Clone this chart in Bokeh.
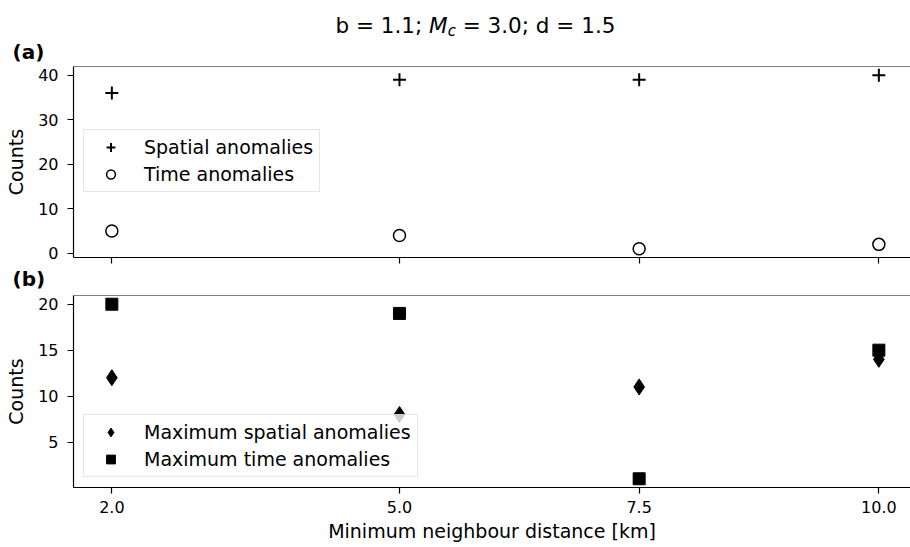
from bokeh.plotting import figure
from bokeh.layouts import column
from bokeh.models import Range1d, FixedTicker, Legend, LegendItem, Label, Span, Title
from bokeh.embed import file_html
from bokeh.resources import INLINE

# --- data -------------------------------------------------------------
distance_km = [2.0, 5.0, 7.5, 10.0]
x_tick_labels = ["2.0", "5.0", "7.5", "10.0"]

spatial_anomalies = [36, 39, 39, 40]
time_anomalies = [5, 4, 1, 2]

max_spatial_anomalies = [12, 8, 11, 14]
max_time_anomalies = [20, 19, 1, 15]

counts_ticks_a = [0, 10, 20, 30, 40]
counts_ticks_b = [5, 10, 15, 20]

# --- layout constants (pixels) ------------------------------------------
W, H = 910, 547
LEFT = 73
TITLE_H = 39
TAG_A_H = 27
FRAME_A_H = 191
A_BOTTOM = 8
GAP_H = 30
FRAME_B_H = 192
B_BOTTOM = H - TITLE_H - TAG_A_H - FRAME_A_H - A_BOTTOM - GAP_H - FRAME_B_H

FONT = "DejaVu Sans"
TICK_SIZE = "16px"
LABEL_SIZE = "19px"
TAG_SIZE = "20px"


def padded(lo, hi, frac=0.05):
    pad = (hi - lo) * frac
    return lo - pad, hi + pad


x_lo, _ = padded(min(distance_km), max(distance_km))
x_range = Range1d(x_lo, 10.33)

ya_lo, ya_hi = padded(min(spatial_anomalies + time_anomalies),
                      max(spatial_anomalies + time_anomalies))
yb_lo, yb_hi = padded(min(max_spatial_anomalies + max_time_anomalies),
                      max(max_spatial_anomalies + max_time_anomalies))


def blank_figure(height):
    p = figure(width=W, height=height, x_axis_type=None, y_axis_type=None,
               toolbar_location=None, output_backend="svg",
               min_border_left=LEFT, min_border_right=0, min_border_top=0,
               min_border_bottom=0, outline_line_color=None)
    p.xgrid.visible = False
    p.ygrid.visible = False
    return p


def panel_tag(text, standoff=0):
    # bold "(a)" / "(b)" tag, pulled left of the axes box
    return Title(text=text, align="left", offset=12 - LEFT, standoff=standoff,
                 vertical_align="middle", text_font=FONT,
                 text_font_size=TAG_SIZE, text_font_style="bold",
                 text_color="black")


def style_axes(p, show_x_labels):
    for ax in (p.xaxis[0], p.yaxis[0]):
        ax.axis_line_color = "black"
        ax.axis_line_width = 1.2
        ax.major_tick_line_color = "black"
        ax.major_tick_line_width = 1.2
        ax.major_tick_out = 6
        ax.major_tick_in = 0
        ax.minor_tick_line_color = None
        ax.major_label_text_font = FONT
        ax.major_label_text_font_size = TICK_SIZE
        ax.major_label_text_color = "black"
        ax.major_label_standoff = 9
        ax.axis_label_text_font = FONT
        ax.axis_label_text_font_size = LABEL_SIZE
        ax.axis_label_text_font_style = "normal"
        ax.axis_label_text_color = "black"
        ax.axis_label_standoff = 8
    p.xaxis.ticker = FixedTicker(ticks=distance_km)
    p.xaxis.major_label_overrides = dict(zip(distance_km, x_tick_labels))
    p.xaxis.major_label_standoff = 7
    p.xaxis.axis_label_standoff = 4
    if not show_x_labels:
        p.xaxis.major_label_text_color = None
        p.xaxis.major_label_standoff = 0
    p.xgrid.visible = False
    p.ygrid.visible = False
    p.outline_line_color = None
    # top edge of the axes box
    p.add_layout(Span(location=p.y_range.end, dimension="width",
                      line_color="black", line_width=1.2))


def make_legend(items, bottom_offset):
    return Legend(
        items=items,
        location=(10, bottom_offset),
        margin=0,
        padding=6,
        spacing=5,
        glyph_width=41,
        glyph_height=22,
        label_height=22,
        label_standoff=13,
        label_text_font=FONT,
        label_text_font_size=LABEL_SIZE,
        label_text_color="black",
        border_line_color="#cccccc",
        border_line_width=1,
        background_fill_color="white",
        background_fill_alpha=0.8,
    )


# --- suptitle -------------------------------------------------------------
header = blank_figure(TITLE_H)
header.x_range = Range1d(LEFT, W)
header.y_range = Range1d(TITLE_H, 0)

# DejaVu Sans advance widths (em) for the title glyphs
ADV = {" ": 0.318, "=": 0.838, ".": 0.318, ";": 0.337, "b": 0.635,
       "d": 0.635, "M": 0.863, "c": 0.550}
for ch in "0123456789":
    ADV[ch] = 0.636


def text_width(s, size):
    return sum(ADV.get(ch, 0.6) for ch in s) * size


T_SIZE = 21.5
SUB_SIZE = 15.0
t_x = 335.0
t_mid = 25.0      # vertical middle of the main title text
sub_mid = 30.0    # vertical middle of the subscript
part1 = "b = 1.1;"
part2 = "= 3.0; d = 1.5"
m_x = t_x + text_width(part1 + " ", T_SIZE)
c_x = m_x + text_width("M", T_SIZE)
p2_x = c_x + text_width("c", SUB_SIZE) + text_width(" ", T_SIZE)

for txt, x, y, size, style in [
    (part1, t_x, t_mid, T_SIZE, "normal"),
    ("M", m_x, t_mid, T_SIZE, "italic"),
    ("c", c_x, sub_mid, SUB_SIZE, "italic"),
    (part2, p2_x, t_mid, T_SIZE, "normal"),
]:
    header.add_layout(Label(x=x, y=y, text=txt, text_font=FONT,
                            text_font_size=f"{size}px", text_font_style=style,
                            text_color="black", text_align="left",
                            text_baseline="middle"))

# --- strip holding panel tag (a) ----------------------------------------
tag_a = blank_figure(TAG_A_H)
tag_a.add_layout(panel_tag("(a)", standoff=-2), "above")

# --- panel (a): anomaly counts -------------------------------------------
pa = figure(width=W, height=FRAME_A_H + A_BOTTOM, x_range=x_range,
            y_range=Range1d(ya_lo, ya_hi), toolbar_location=None,
            output_backend="svg", min_border_left=LEFT, min_border_right=0,
            min_border_top=0, min_border_bottom=A_BOTTOM,
            y_axis_label="Counts")
r_sp = pa.scatter(distance_km, spatial_anomalies, marker="cross", size=13,
                  line_color="black", line_width=2)
r_tm = pa.scatter(distance_km, time_anomalies, marker="circle", size=12,
                  line_color="black", line_width=1.5, fill_color=None)
style_axes(pa, show_x_labels=False)
pa.yaxis.ticker = FixedTicker(ticks=counts_ticks_a)
pa.add_layout(make_legend([LegendItem(label="Spatial anomalies", renderers=[r_sp]),
                           LegendItem(label="Time anomalies", renderers=[r_tm])],
                          bottom_offset=65))

# --- strip holding panel tag (b) ----------------------------------------
gap = blank_figure(GAP_H)
gap.add_layout(panel_tag("(b)"), "above")

# --- panel (b): maximum anomaly counts -----------------------------------
pb = figure(width=W, height=FRAME_B_H + B_BOTTOM, x_range=x_range,
            y_range=Range1d(yb_lo, yb_hi), toolbar_location=None,
            output_backend="svg", min_border_left=LEFT, min_border_right=0,
            min_border_top=0, min_border_bottom=B_BOTTOM,
            x_axis_label="Minimum neighbour distance [km]",
            y_axis_label="Counts")
r_msp = pb.scatter(distance_km, max_spatial_anomalies, marker="diamond",
                   size=16, color="black")
r_mtm = pb.scatter(distance_km, max_time_anomalies, marker="square",
                   size=12, color="black")
style_axes(pb, show_x_labels=True)
pb.yaxis.ticker = FixedTicker(ticks=counts_ticks_b)
pb.add_layout(make_legend([LegendItem(label="Maximum spatial anomalies", renderers=[r_msp]),
                           LegendItem(label="Maximum time anomalies", renderers=[r_mtm])],
                          bottom_offset=10))

layout = column(header, tag_a, pa, gap, pb, spacing=0)
open("out.html", "w").write(file_html(layout, INLINE))
